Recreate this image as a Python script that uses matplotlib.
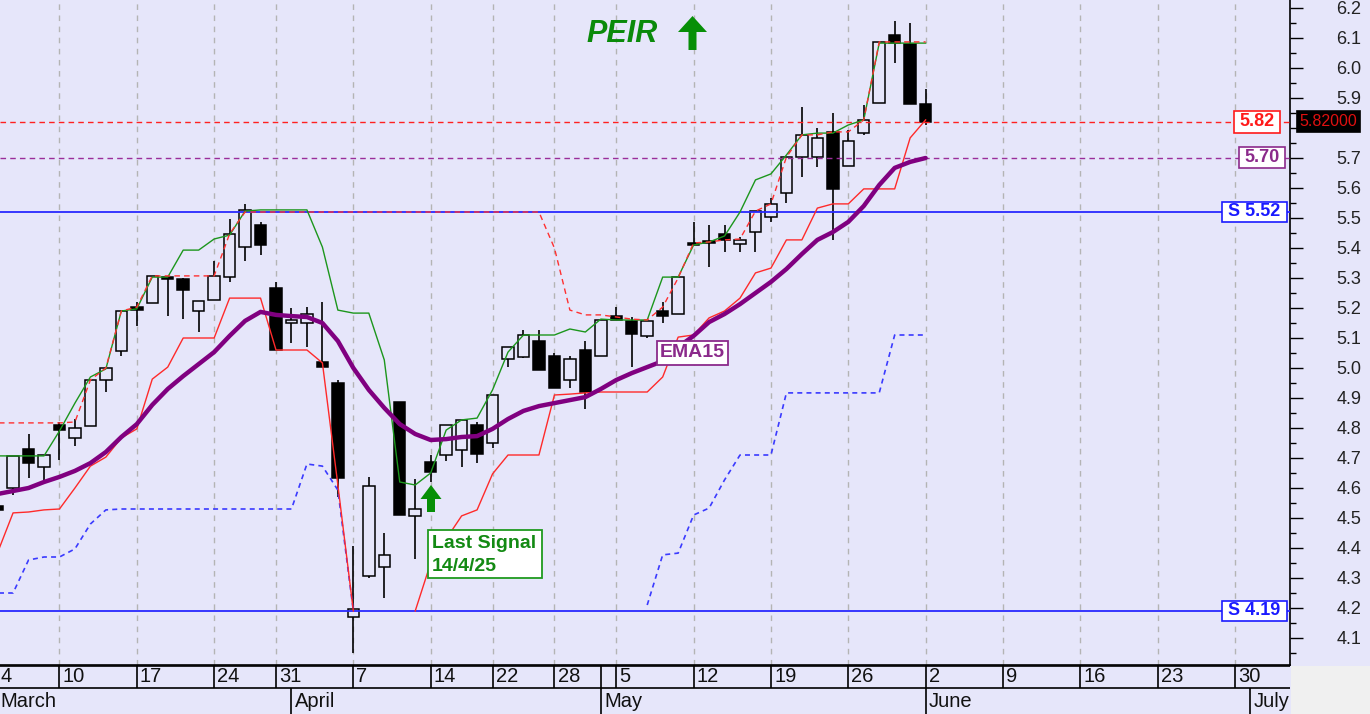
import numpy as np
import matplotlib
matplotlib.use("Agg")
import matplotlib.pyplot as plt
from matplotlib.patches import Rectangle, FancyArrow
from matplotlib.ticker import MultipleLocator, FuncFormatter

# ---------------- data (trading-day index 0 = 4 Mar 2025 ... 60 = 2 Jun 2025) ----------------
opens = [4.54, 4.60, 4.73, 4.67, 4.81, 4.767, 4.807, 4.96, 5.057, 5.203,
         5.217, 5.303, 5.297, 5.19, 5.227, 5.303, 5.403, 5.477, 5.267, 5.15,
         5.15, 5.02, 4.95, 4.17, 4.307, 4.337, 4.887, 4.507, 4.687, 4.71,
         4.727, 4.81, 4.75, 5.03, 5.037, 5.09, 5.04, 4.96, 5.06, 5.04,
         5.173, 5.157, 5.107, 5.19, 5.18, 5.417, 5.423, 5.447, 5.413, 5.453,
         5.503, 5.583, 5.703, 5.703, 5.787, 5.673, 5.783, 5.883, 6.11, 6.08,
         5.88]
highs = [4.56, 4.707, 4.78, 4.71, 4.82, 4.83, 4.96, 5.0, 5.19, 5.22,
         5.307, 5.307, 5.30, 5.223, 5.357, 5.497, 5.547, 5.487, 5.287, 5.20,
         5.203, 5.22, 4.96, 4.407, 4.637, 4.45, 4.887, 4.63, 4.71, 4.81,
         4.827, 4.82, 4.91, 5.07, 5.127, 5.127, 5.05, 5.04, 5.09, 5.16,
         5.203, 5.17, 5.157, 5.22, 5.303, 5.487, 5.477, 5.477, 5.437, 5.523,
         5.567, 5.703, 5.87, 5.80, 5.85, 5.793, 5.877, 6.087, 6.157, 6.15,
         5.93]
lows = [4.50, 4.577, 4.633, 4.627, 4.693, 4.74, 4.807, 4.92, 5.04, 5.14,
        5.217, 5.173, 5.163, 5.12, 5.227, 5.287, 5.357, 5.377, 5.06, 5.083,
        5.07, 5.003, 4.57, 4.05, 4.30, 4.233, 4.51, 4.363, 4.62, 4.69,
        4.67, 4.683, 4.733, 5.003, 5.033, 4.993, 4.933, 4.933, 4.863, 5.04,
        5.16, 5.003, 5.10, 5.15, 5.18, 5.41, 5.337, 5.387, 5.387, 5.387,
        5.487, 5.55, 5.637, 5.67, 5.427, 5.673, 5.777, 5.883, 6.017, 5.88,
        5.81]
closes = [4.527, 4.707, 4.683, 4.71, 4.793, 4.80, 4.96, 5.0, 5.19, 5.193,
          5.307, 5.297, 5.26, 5.223, 5.307, 5.447, 5.527, 5.41, 5.06, 5.16,
          5.18, 5.003, 4.633, 4.197, 4.607, 4.377, 4.51, 4.53, 4.653, 4.81,
          4.827, 4.713, 4.91, 5.07, 5.11, 4.993, 4.933, 5.03, 4.92, 5.16,
          5.16, 5.113, 5.157, 5.173, 5.303, 5.41, 5.417, 5.427, 5.427, 5.523,
          5.547, 5.703, 5.777, 5.767, 5.597, 5.757, 5.827, 6.087, 6.083, 5.88,
          5.82]
ema15 = [4.58, 4.59, 4.60, 4.62, 4.637, 4.657, 4.683, 4.72, 4.77, 4.813,
         4.877, 4.93, 4.973, 5.013, 5.053, 5.107, 5.157, 5.187, 5.177, 5.173,
         5.17, 5.15, 5.09, 5.0, 4.927, 4.867, 4.813, 4.78, 4.76, 4.763,
         4.77, 4.773, 4.797, 4.83, 4.857, 4.873, 4.883, 4.893, 4.903, 4.93,
         4.96, 4.983, 5.003, 5.023, 5.07, 5.107, 5.153, 5.18, 5.213, 5.25,
         5.287, 5.33, 5.38, 5.427, 5.453, 5.487, 5.54, 5.61, 5.667, 5.687,
         5.70]
nan = np.nan
trail_stop = [4.385, 4.517, 4.52, 4.527, 4.53, 4.60, 4.673, 4.703, 4.767, 4.797,
              4.963, 5.003, 5.10, 5.10, 5.10, 5.233, 5.233, 5.233, 5.06, 5.06,
              5.06, 5.017, 4.61, 4.19, nan, nan, nan, 4.19, 4.35, 4.43,
              4.507, 4.527, 4.647, 4.71, 4.71, 4.71, 4.91, 4.913, 4.917, 4.92,
              4.92, 4.92, 4.92, 4.97, 5.103, 5.11, 5.167, 5.19, 5.233, 5.317,
              5.333, 5.427, 5.427, 5.533, 5.547, 5.547, 5.597, 5.597, 5.597, 5.767,
              5.827]
upper_band = [4.817, 4.817, 4.817, 4.817, 4.817, 4.82, 4.96, 5.0, 5.19, 5.203,
              5.307, 5.307, 5.307, 5.307, 5.307, 5.447, 5.52, 5.52, 5.52, 5.52,
              5.52, 5.52, 5.52, 5.52, 5.52, 5.52, 5.52, 5.52, 5.52, 5.52,
              5.52, 5.52, 5.52, 5.52, 5.52, 5.52, 5.40, 5.193, 5.177, 5.177,
              5.17, 5.163, 5.16, 5.203, 5.30, 5.417, 5.42, 5.427, 5.43, 5.523,
              5.547, 5.703, 5.777, 5.777, 5.787, 5.787, 5.827, 6.087, 6.087, 6.087,
              6.087]
signal_line = [4.707, 4.707, 4.707, 4.707, 4.79, 4.883, 4.97, 4.997, 5.19, 5.197,
               5.303, 5.303, 5.393, 5.393, 5.43, 5.443, 5.523, 5.527, 5.527, 5.527,
               5.527, 5.403, 5.193, 5.183, 5.183, 5.027, 4.62, 4.61, 4.65, 4.793,
               4.827, 4.833, 4.927, 5.053, 5.11, 5.11, 5.11, 5.13, 5.12, 5.163,
               5.16, 5.16, 5.16, 5.303, 5.303, 5.41, 5.42, 5.44, 5.52, 5.627,
               5.647, 5.71, 5.777, 5.783, 5.783, 5.81, 5.827, 6.083, 6.083, 6.083,
               6.083]
lower_band = [4.25, 4.25, 4.36, 4.37, 4.37, 4.397, 4.48, 4.527, 4.53, 4.53,
              4.53, 4.53, 4.53, 4.53, 4.53, 4.53, 4.53, 4.53, 4.53, 4.53,
              4.68, 4.673, 4.593, 4.19, nan, nan, nan, nan, nan, nan,
              nan, nan, nan, nan, nan, nan, nan, nan, nan, nan,
              nan, nan, 4.21, 4.377, 4.383, 4.51, 4.533, 4.627, 4.71, 4.71,
              4.71, 4.917, 4.917, 4.917, 4.917, 4.917, 4.917, 4.917, 5.11, 5.11,
              5.11]
support_levels = [5.52, 4.19]
last_close = 5.82
ema_last = 5.70
signal_text = "Last Signal\n14/4/25"
ticker = "PEIR"

week_idx = [0, 4, 9, 14, 18, 23, 28, 32, 36, 39, 40, 45, 50, 55, 60, 65, 70, 75, 80]
week_lbl = ['4', '10', '17', '24', '31', '7', '14', '22', '28', '', '5', '12', '19', '26',
            '2', '9', '16', '23', '30']
grid_idx = [4, 9, 14, 18, 23, 28, 32, 36, 40, 45, 50, 55, 60, 65, 70, 75, 80]
month_idx = [0, 19, 39, 60, 81]
month_lbl = ['March', 'April', 'May', 'June', 'July']

# ---------------- styling / layout ----------------
W, H = 1370, 714
BG = '#E6E6FA'
D = 15.467      # px per trading day
X0 = -2.4       # px of index 0
PX_PER_UNIT = 300.0

def ix(px):
    return (px - X0) / D

def pr(py):
    return 5.5 - (py - 218) / PX_PER_UNIT

fig = plt.figure(figsize=(W / 100, H / 100), dpi=100)
fig.patch.set_facecolor(BG)

ax = fig.add_axes([0, 49 / H, 1290 / W, 665 / H])
ax.set_facecolor(BG)
ax.set_xlim(ix(0), ix(1290))
ax.set_ylim(pr(665), pr(0))

for s in ['top', 'left']:
    ax.spines[s].set_visible(False)
ax.spines['right'].set_color('black')
ax.spines['right'].set_linewidth(1.2)
ax.spines['bottom'].set_color('black')
ax.spines['bottom'].set_linewidth(1.2)
ax.set_xticks([])
ax.yaxis.tick_right()
ax.yaxis.set_major_locator(MultipleLocator(0.1))
ax.yaxis.set_minor_locator(MultipleLocator(0.05))

def fmt(v, pos):
    # the tick label under the last-price box is hidden, as in the original
    if abs(v - round(last_close, 1)) < 1e-6:
        return ''
    return f"{v:.1f}"

ax.yaxis.set_major_formatter(FuncFormatter(fmt))
ax.tick_params(axis='y', which='major', direction='out', length=9.5, width=1.0,
               pad=24, labelsize=13, labelcolor='#222222', colors='black')
ax.tick_params(axis='y', which='minor', direction='out', length=4.5, width=1.0)
for t in ax.get_yticklabels():
    t.set_fontfamily('Liberation Sans')
    t.set_color('#222222')

# vertical dashed week gridlines
for g in grid_idx:
    ax.axvline(g, color='#b4b4b4', lw=1.0, ls=(0, (4, 4)), zorder=1)

# candles
idx = np.arange(len(opens))
o = np.array(opens); h = np.array(highs); l = np.array(lows); c = np.array(closes)
up = c >= o
bot = np.minimum(o, c)
hgt = np.maximum(np.abs(c - o), 0.003)
ax.vlines(idx, l, h, color='black', lw=1.2, zorder=2)
ax.bar(idx[up], hgt[up], bottom=bot[up], width=0.74, facecolor=BG,
       edgecolor='black', linewidth=1.1, zorder=3)
ax.bar(idx[~up], hgt[~up], bottom=bot[~up], width=0.74, facecolor='black',
       edgecolor='black', linewidth=1.1, zorder=3)

# horizontal reference lines
for lv in support_levels:
    ax.axhline(lv, color='#2828ff', lw=1.3, zorder=4)
ax.axhline(last_close, color='#ff2020', lw=1.0, ls=(0, (4, 3)), zorder=4)
ax.axhline(ema_last, color='#9a2e9a', lw=1.0, ls=(0, (4, 3)), zorder=4)

# indicator lines
ax.plot(idx, lower_band, color='#3a3aff', lw=1.2, ls=(0, (3, 2.5)), zorder=5)
ax.plot(idx, trail_stop, color='#ff2a2a', lw=1.0, zorder=5)
ax.plot(idx, signal_line, color='#1c961c', lw=1.0, zorder=6)
ax.plot(idx, upper_band, color='#ff3030', lw=1.0, ls=(0, (4, 3)), zorder=6)
ax.plot(idx, ema15, color='#800080', lw=3.2, zorder=7, solid_capstyle='round')

# ---------------- labels / boxes ----------------
trans = ax.get_yaxis_transform()

def boxed(xc_px, yval, w_px, h_px, text, col, fs=13, fc='white', tc=None, weight='bold'):
    ax.add_patch(Rectangle(((xc_px - w_px / 2) / 1290, yval - h_px / 2 / PX_PER_UNIT),
                           w_px / 1290, h_px / PX_PER_UNIT, transform=trans,
                           facecolor=fc, edgecolor=col, lw=1.2, zorder=10, clip_on=False))
    ax.text(xc_px / 1290, yval, text, transform=trans, ha='center', va='center',
            color=tc or col, fontsize=fs, fontweight=weight, family='Liberation Sans',
            zorder=11, clip_on=False)

boxed(1257, last_close, 46, 22, f"{last_close:.2f}", '#ff1a1a')
boxed(1262, ema_last, 46, 21, f"{ema_last:.2f}", '#8b2a8b')
for lv in support_levels:
    boxed(1254.5, lv, 65, 20, f"S {lv:.2f}", '#1a1aff')
boxed(1328.5, last_close, 63, 21, f"{last_close:.5f}", 'black', fs=11.5, fc='black',
      tc='#e01010', weight='normal')

# EMA15 label
ax.add_patch(Rectangle((ix(657), pr(365)), ix(728) - ix(657), pr(341) - pr(365),
                       facecolor='white', edgecolor='#8b2a8b', lw=1.3, zorder=10))
ax.text(ix(692.5), pr(353), "EMA15", ha='center', va='center', color='#8b2a8b',
        fontsize=14, fontweight='bold', family='Liberation Sans', zorder=11)

# Last signal label
ax.add_patch(Rectangle((ix(428), pr(578)), ix(542) - ix(428), pr(530) - pr(578),
                       facecolor='white', edgecolor='#1f9a1f', lw=1.3, zorder=10))
ax.text(ix(432), pr(555), signal_text, ha='left', va='center', color='#138a13',
        fontsize=14, fontweight='bold', family='Liberation Sans', zorder=11,
        linespacing=1.4)

# ticker title + arrows
ax.text(ix(586), pr(34), ticker, ha='left', va='center', color='#0a8a0a',
        fontsize=22, fontweight='bold', fontstyle='italic', family='Liberation Sans',
        zorder=11)

def up_arrow(xc_px, ytip_px, ybase_px, head_w_px, shaft_w_px, head_len_px):
    ax.add_patch(FancyArrow(ix(xc_px), pr(ybase_px), 0, pr(ytip_px) - pr(ybase_px),
                            width=shaft_w_px / D, head_width=head_w_px / D,
                            head_length=head_len_px / PX_PER_UNIT,
                            length_includes_head=True, color='#078f07', lw=0, zorder=11))

up_arrow(692.5, 16, 50, 29, 8, 16)
up_arrow(431, 485, 512, 21, 8, 14)

# ---------------- date rows ----------------
axd = fig.add_axes([0, 0, 1290 / W, 49 / H])
axd.set_xlim(ix(0), ix(1290))
axd.set_ylim(0, 49)
axd.axis('off')
date_font = ['Liberation Sans Narrow', 'Liberation Sans']
axd.axhline(48.4, color='black', lw=1.2)
axd.axhline(26, color='black', lw=1.2)
axd.vlines(week_idx, 26, 49, color='black', lw=1.2)
axd.vlines(month_idx, 0, 26, color='black', lw=1.2)
for i, lbl in zip(week_idx, week_lbl):
    axd.text(i + 0.2, 37, lbl, ha='left', va='center', fontsize=14.5, family=date_font,
             color='#111111')
for i, lbl in zip(month_idx, month_lbl):
    axd.text(i + 0.2, 12.5, lbl, ha='left', va='center', fontsize=14.5, family=date_font,
             color='#111111')

fig.add_artist(Rectangle((1291 / W, 0), 79 / W, 48 / H, transform=fig.transFigure,
                         facecolor='#f0f0f0', edgecolor='none'))

fig.savefig('out.png', dpi=100, facecolor=BG)
